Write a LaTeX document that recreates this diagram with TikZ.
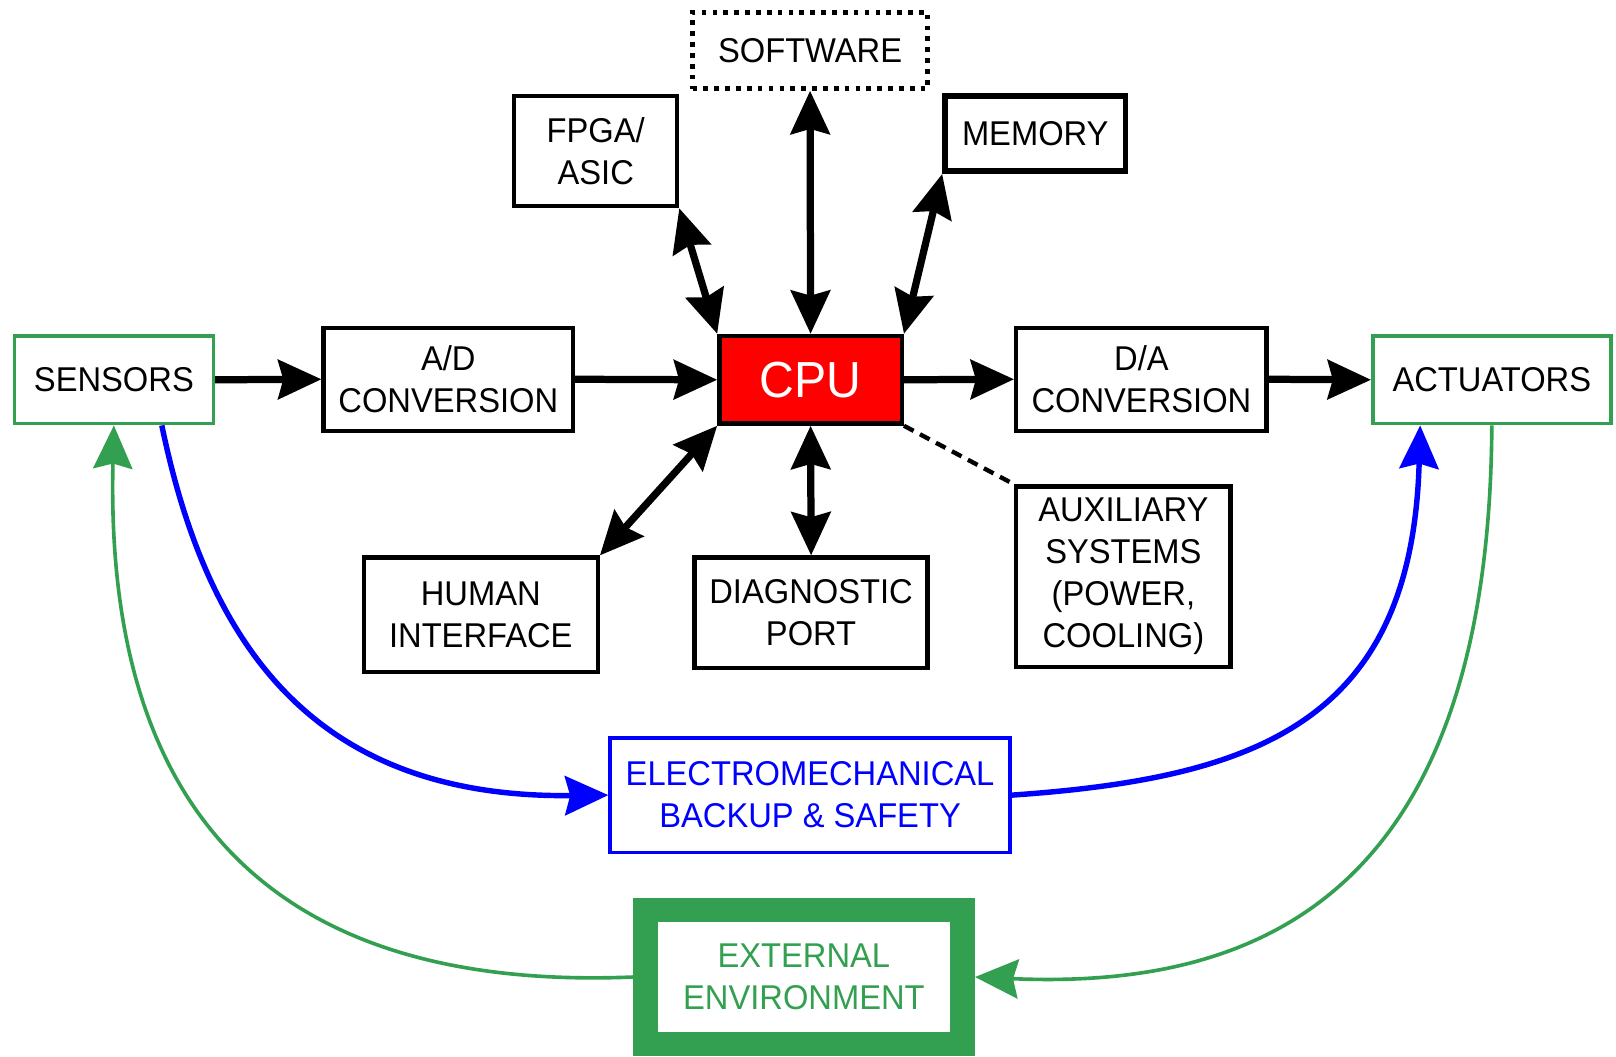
\documentclass[tikz,border=0pt]{standalone}
\usepackage{fontspec}
\setmainfont[FakeStretch=0.95]{Liberation Sans}
\usetikzlibrary{arrows.meta}
\definecolor{envgreen}{RGB}{50,160,80}

\begin{document}
\begin{tikzpicture}[font=\fontsize{9.5}{11.6}\selectfont,
	>={Stealth[length=4.2mm,width=3.8mm,inset=0.5mm]},
	blk/.style={draw, line width=1.2pt, align=center, inner sep=0pt},
	grn/.style={draw=envgreen, line width=1pt, align=center, inner sep=0pt},
	link/.style={line width=2pt}]
	\useasboundingbox (0,0) rectangle (15.68,-10.25);
	% boxes round the CPU
	\node[blk, dash pattern=on 1.3pt off 1.7pt, minimum width=2.28cm, minimum height=.74cm] (soft) at (7.86,-.49) {SOFTWARE};
	\node[blk, minimum width=1.58cm, minimum height=1.07cm] (fpga) at (5.78,-1.465) {FPGA/\\ASIC};
	\node[blk, line width=1.6pt, minimum width=1.75cm, minimum height=.73cm] (mem) at (10.045,-1.295) {MEMORY};
	\node[grn, minimum width=1.93cm, minimum height=.85cm] (sens) at (1.105,-3.685) {SENSORS};
	\node[blk, minimum width=2.42cm, minimum height=1cm] (ad) at (4.35,-3.68) {A/D\\CONVERSION};
	\node[blk, fill=red, text=white, font=\fontsize{14}{16}\selectfont, minimum width=1.77cm, minimum height=.85cm] (cpu) at (7.865,-3.685) {CPU};
	\node[blk, minimum width=2.43cm, minimum height=1cm] (da) at (11.075,-3.68) {D/A\\CONVERSION};
	\node[grn, minimum width=2.31cm, minimum height=.85cm] (act) at (14.475,-3.685) {ACTUATORS};
	\node[blk, minimum width=2.27cm, minimum height=1.11cm] (hum) at (4.665,-5.965) {HUMAN\\INTERFACE};
	\node[blk, minimum width=2.26cm, minimum height=1.07cm] (diag) at (7.87,-5.945) {DIAGNOSTIC\\PORT};
	\node[blk, minimum width=2.08cm, minimum height=1.75cm] (aux) at (10.9,-5.595) {AUXILIARY\\SYSTEMS\\(POWER,\\COOLING)};
	% backup and environment
	\node[draw=blue, text=blue, line width=1pt, align=center, minimum width=3.88cm, minimum height=1.11cm] (emb) at (7.86,-7.715) {ELECTROMECHANICAL\\BACKUP \& SAFETY};
	\node[draw=envgreen, text=envgreen, line width=.24cm, align=center, minimum width=3.08cm, minimum height=1.3cm] (ext) at (7.8,-9.48) {EXTERNAL\\ENVIRONMENT};
	% signal path
	\draw[link,->] (sens.east) -- (ad.west);
	\draw[link,->] (ad.east) -- (cpu.west);
	\draw[link,->] (cpu.east) -- (da.west);
	\draw[link,->] (da.east) -- (act.west);
	\draw[link,<->] (cpu.north) -- (soft.south);
	\draw[link,<->] (cpu.north west) -- (fpga.south east);
	\draw[link,<->] (cpu.north east) -- (mem.south west);
	\draw[link,<->] (cpu.south west) -- (hum.north east);
	\draw[link,<->] (cpu.south) -- (diag.north);
	\draw[line width=1.2pt, dash pattern=on 3pt off 2pt] (cpu.south east) -- (aux.north west);
	% curved loops
	\draw[blue, line width=1.5pt, ->] ([xshift=4.65mm]sens.south) .. controls (2,-6.2) and (3,-7.75) .. (emb.west);
	\draw[blue, line width=1.5pt, ->] (emb.east) .. controls (12.2,-7.55) and (13.7,-7) .. ([xshift=-6.95mm]act.south);
	\draw[envgreen, line width=1pt, ->] (ext.west) .. controls (3.2,-9.6) and (1,-8.4) .. (sens.south);
	\draw[envgreen, line width=1pt, ->] (act.south) .. controls (14.45,-8.7) and (12.2,-9.6) .. (ext.east);
\end{tikzpicture}
\end{document}
